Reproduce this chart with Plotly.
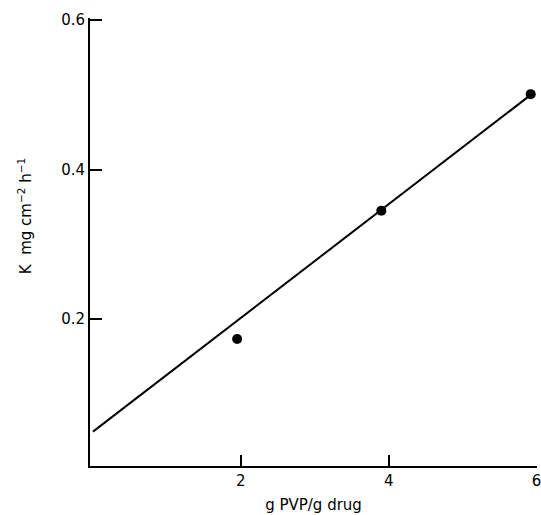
import plotly.graph_objects as go

# Data
x_points = [1.95, 3.9, 5.92]
y_points = [0.173, 0.345, 0.501]
fit_x = [0.0, 5.92]
fit_y = [0.049, 0.50]

x_ticks = [2, 4, 6]
y_ticks = [0.2, 0.4, 0.6]
y_tick_text = ["0.2", "0.4", "0.6"]

FONT = "DejaVu Sans, Verdana, sans-serif"

fig = go.Figure()
fig.add_trace(go.Scatter(x=fit_x, y=fit_y, mode="lines",
                         line=dict(color="black", width=2), showlegend=False))
fig.add_trace(go.Scatter(x=x_points, y=y_points, mode="markers",
                         marker=dict(color="black", size=10), showlegend=False))

fig.update_layout(
    width=541, height=515,
    margin=dict(l=90, r=4, t=18, b=49, autoexpand=False),
    plot_bgcolor="white", paper_bgcolor="white",
    font=dict(family=FONT, size=15, color="black"),
    xaxis=dict(range=[-0.04, 6.005], tickvals=x_ticks, ticktext=[str(t) for t in x_ticks],
               ticks="inside", ticklen=11, tickwidth=1.5, tickcolor="black",
               ticklabeloverflow="allow", automargin=False,
               showline=True, linecolor="black", linewidth=2,
               showgrid=False, zeroline=False,
               title=dict(text="g PVP/g drug", standoff=10, font=dict(size=15)),
               tickfont=dict(size=15)),
    yaxis=dict(range=[0.003, 0.603], tickvals=y_ticks, ticktext=y_tick_text,
               ticks="inside", ticklen=12, tickwidth=1.5, tickcolor="black",
               automargin=False,
               showline=True, linecolor="black", linewidth=2,
               showgrid=False, zeroline=False,
               tickfont=dict(size=15)),
    annotations=[dict(text="K  mg cm<sup>−2</sup> h<sup>−1</sup>", textangle=-90,
                      xref="paper", yref="paper", x=-0.145, y=0.558,
                      xanchor="center", yanchor="middle", showarrow=False,
                      font=dict(size=15))],
)

fig.write_html("out.html")
